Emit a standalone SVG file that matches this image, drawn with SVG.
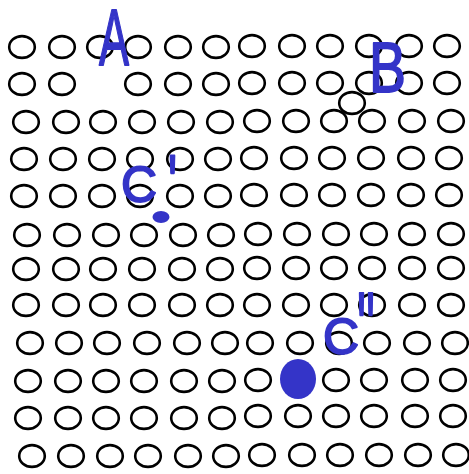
<svg xmlns="http://www.w3.org/2000/svg" width="469" height="474" viewBox="0 0 469 474">
<style>
.o{fill:none;stroke:#000;stroke-width:2.6}
.hand{fill:#3434c8;stroke:#3434c8;stroke-width:1.8;stroke-linejoin:round;font-family:"Liberation Sans",Arial,sans-serif}
.ink{fill:#3434c8}
</style>
<defs>
<ellipse id="o" class="o" cx="0" cy="0" rx="12.8" ry="10.9"/>
</defs>
<rect width="469" height="474" fill="#fff"/>
<g id="row1"><use href="#o" x="22" y="47"/><use href="#o" x="62" y="47"/><use href="#o" x="100" y="47"/><use href="#o" x="138" y="47"/><use href="#o" x="178" y="47"/><use href="#o" x="216" y="47"/><use href="#o" x="252" y="46"/><use href="#o" x="292" y="46"/><use href="#o" x="330" y="46"/><use href="#o" x="369" y="46"/><use href="#o" x="409" y="46"/><use href="#o" x="447" y="46"/></g>
<g id="row2"><use href="#o" x="22" y="84"/><use href="#o" x="62" y="84"/><use href="#o" x="138" y="84"/><use href="#o" x="178" y="84"/><use href="#o" x="216" y="84"/><use href="#o" x="252" y="83"/><use href="#o" x="292" y="83"/><use href="#o" x="330" y="83"/><use href="#o" x="369" y="83"/><use href="#o" x="409" y="83"/><use href="#o" x="447" y="83"/></g>
<g id="extra"><use href="#o" x="352" y="103"/></g>
<g id="row3"><use href="#o" x="26" y="122"/><use href="#o" x="66" y="122"/><use href="#o" x="103" y="122"/><use href="#o" x="142" y="122"/><use href="#o" x="181" y="122"/><use href="#o" x="220" y="122"/><use href="#o" x="257" y="121"/><use href="#o" x="296" y="121"/><use href="#o" x="334" y="121"/><use href="#o" x="372" y="121"/><use href="#o" x="412" y="121"/><use href="#o" x="451" y="121"/></g>
<g id="row4"><use href="#o" x="24" y="159"/><use href="#o" x="63" y="159"/><use href="#o" x="102" y="159"/><use href="#o" x="140" y="159"/><use href="#o" x="180" y="159"/><use href="#o" x="218" y="159"/><use href="#o" x="254" y="158"/><use href="#o" x="294" y="158"/><use href="#o" x="332" y="158"/><use href="#o" x="371" y="158"/><use href="#o" x="411" y="158"/><use href="#o" x="449" y="158"/></g>
<g id="row5"><use href="#o" x="24" y="196"/><use href="#o" x="63" y="196"/><use href="#o" x="102" y="196"/><use href="#o" x="140" y="196"/><use href="#o" x="180" y="196"/><use href="#o" x="218" y="196"/><use href="#o" x="254" y="195"/><use href="#o" x="294" y="195"/><use href="#o" x="332" y="195"/><use href="#o" x="371" y="195"/><use href="#o" x="411" y="195"/><use href="#o" x="449" y="195"/></g>
<g id="row6"><use href="#o" x="27" y="235"/><use href="#o" x="67" y="235"/><use href="#o" x="106" y="235"/><use href="#o" x="144" y="235"/><use href="#o" x="183" y="235"/><use href="#o" x="221" y="235"/><use href="#o" x="258" y="234"/><use href="#o" x="297" y="234"/><use href="#o" x="336" y="234"/><use href="#o" x="374" y="234"/><use href="#o" x="412" y="234"/><use href="#o" x="451" y="234"/></g>
<g id="row7"><use href="#o" x="26" y="269"/><use href="#o" x="66" y="269"/><use href="#o" x="103" y="269"/><use href="#o" x="142" y="269"/><use href="#o" x="182" y="269"/><use href="#o" x="220" y="269"/><use href="#o" x="257" y="268"/><use href="#o" x="296" y="268"/><use href="#o" x="334" y="268"/><use href="#o" x="372" y="268"/><use href="#o" x="412" y="268"/><use href="#o" x="451" y="268"/></g>
<g id="row8"><use href="#o" x="26" y="305"/><use href="#o" x="66" y="305"/><use href="#o" x="103" y="305"/><use href="#o" x="142" y="305"/><use href="#o" x="182" y="305"/><use href="#o" x="220" y="305"/><use href="#o" x="257" y="305"/><use href="#o" x="296" y="305"/><use href="#o" x="334" y="305"/><use href="#o" x="372" y="305"/><use href="#o" x="412" y="305"/><use href="#o" x="451" y="305"/></g>
<g id="row9"><use href="#o" x="30" y="343"/><use href="#o" x="69" y="343"/><use href="#o" x="107" y="343"/><use href="#o" x="147" y="343"/><use href="#o" x="187" y="343"/><use href="#o" x="225" y="343"/><use href="#o" x="260" y="343"/><use href="#o" x="300" y="343"/><use href="#o" x="339" y="343"/><use href="#o" x="377" y="343"/><use href="#o" x="417" y="343"/><use href="#o" x="455" y="343"/></g>
<g id="row10"><use href="#o" x="28" y="381"/><use href="#o" x="68" y="381"/><use href="#o" x="106" y="381"/><use href="#o" x="144" y="381"/><use href="#o" x="184" y="381"/><use href="#o" x="222" y="381"/><use href="#o" x="258" y="380"/><use href="#o" x="298" y="380"/><use href="#o" x="336" y="380"/><use href="#o" x="374" y="380"/><use href="#o" x="415" y="380"/><use href="#o" x="453" y="380"/></g>
<g id="row11"><use href="#o" x="28" y="418"/><use href="#o" x="68" y="418"/><use href="#o" x="106" y="418"/><use href="#o" x="144" y="418"/><use href="#o" x="184" y="418"/><use href="#o" x="222" y="418"/><use href="#o" x="258" y="416"/><use href="#o" x="298" y="416"/><use href="#o" x="336" y="416"/><use href="#o" x="374" y="416"/><use href="#o" x="415" y="416"/><use href="#o" x="453" y="416"/></g>
<g id="row12"><use href="#o" x="32" y="456"/><use href="#o" x="71" y="456"/><use href="#o" x="110" y="456"/><use href="#o" x="148" y="456"/><use href="#o" x="188" y="456"/><use href="#o" x="226" y="456"/><use href="#o" x="262" y="455"/><use href="#o" x="302" y="455"/><use href="#o" x="340" y="455"/><use href="#o" x="379" y="455"/><use href="#o" x="418" y="455"/><use href="#o" x="456" y="455"/></g>
<g id="marks">
<ellipse class="ink" cx="161" cy="217" rx="8.5" ry="6"/>
<ellipse class="ink" cx="298" cy="379" rx="18" ry="20"/>
</g>
<g id="labels">
<text class="hand" x="99" y="65" font-size="80" stroke-width="2.4" textLength="30" lengthAdjust="spacingAndGlyphs">A</text>
<text class="hand" x="369" y="92" font-size="70" textLength="37" lengthAdjust="spacingAndGlyphs">B</text>
<text class="hand" x="121" y="202" font-size="50">C<tspan x="168" y="211" font-size="80" stroke-width="2.4" textLength="9" lengthAdjust="spacingAndGlyphs">'</tspan></text>
<text class="hand" x="323" y="354" font-size="50">C<tspan x="357" y="362" font-size="100" stroke-width="2.4" textLength="18" lengthAdjust="spacingAndGlyphs">''</tspan></text>
</g>
</svg>
